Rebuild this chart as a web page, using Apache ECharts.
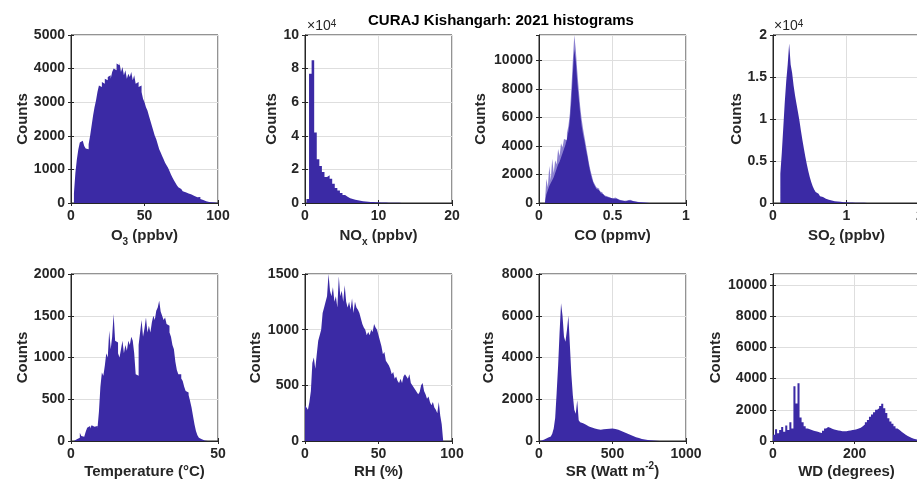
<!DOCTYPE html>
<html>
<head>
<meta charset="utf-8">
<title>CURAJ Kishangarh: 2021 histograms</title>
<script src="https://cdn.jsdelivr.net/npm/echarts@6.0.0/dist/echarts.min.js"></script>
<style>
  html, body { margin: 0; padding: 0; background: #fff; }
  #chart { width: 917px; height: 486px; }
</style>
</head>
<body>
<div id="chart"></div>
<script>
// histogram counts, one array per panel (bin start + bin width)
const o3Start = 0, o3Width = 1;
const o3Counts = [0, 0, 300, 900, 1300, 1600, 1800, 1850, 1800, 1700,
  1620, 1600, 1750, 2000, 2300, 2600, 2850, 3050, 3300, 3500,
  3450, 3600, 3550, 3700, 3650, 3750, 3800, 3700, 3900, 4000,
  3950, 4150, 4100, 4180, 3900, 4050, 3800, 3950, 3700, 3850,
  3750, 3900, 3650, 3800, 3550, 3600, 3450, 3500, 3300, 3100,
  3000, 2850, 2750, 2600, 2450, 2300, 2150, 2000, 1900, 1750,
  1600, 1500, 1400, 1300, 1200, 1120, 1050, 950, 850, 760,
  680, 600, 530, 470, 420, 380, 350, 320, 300, 280,
  270, 250, 230, 210, 190, 170, 200, 180, 120, 90,
  70, 50, 40, 30, 25, 20, 20, 15, 15, 10];

const noxStart = 0.2, noxWidth = 0.35;
const noxCounts = [2400, 77000, 85000, 42000, 26000, 22000, 18500, 15500, 16500, 14500,
  11500, 9000, 7500, 6000, 4700, 3700, 2900, 2400, 1900, 1700,
  1300, 1100, 850, 750, 650, 550, 500, 450, 350, 300,
  250, 200, 170, 140, 110, 90, 70, 55, 40, 30];

const coStart = 0.04, coWidth = 0.01;
const coCounts = [0, 600, 900, 1200, 1400, 1600, 1800, 2100, 2400, 2700,
  2900, 3200, 3500, 3800, 4100, 4500, 5000, 5800, 7200, 9000,
  10800, 10000, 8500, 7400, 6300, 5400, 4800, 4300, 3700, 3200,
  2600, 2100, 1700, 1400, 1200, 1000, 900, 800, 700, 600,
  500, 450, 400, 380, 350, 300, 300, 350, 300, 250,
  200, 180, 150, 130, 120, 150, 180, 200, 150, 120,
  100, 80, 70, 60, 50, 40, 30, 20, 20, 15,
  10, 0];
const coEdgeCounts = [0, 1700, 1100, 2600, 1600, 3100, 2100, 3000, 2700, 3800,
  3300, 4200, 3900, 4500, 4400, 4900, 5400, 6300, 8000, 10000,
  11800, 10800, 9300, 8000, 6800, 5900, 5200, 4600, 4000, 3400,
  2800, 2300, 1900, 1500, 1300, 1100, 1000, 850, 750, 650,
  550, 500, 430, 400, 370, 320, 330, 380, 320, 270,
  220, 200, 170, 150, 140, 170, 200, 220, 170, 140,
  120, 100, 80, 70, 60, 50, 40, 30, 25, 20,
  15, 0];

const so2Start = 0.1, so2Width = 0.02;
const so2Counts = [3500, 6000, 9000, 12000, 14500, 16500, 19000, 16500, 15500, 14000,
  12800, 11800, 10800, 9800, 8600, 7500, 6500, 5500, 4600, 3800,
  3100, 2500, 2000, 1600, 1300, 1100, 950, 800, 700, 600,
  520, 450, 400, 350, 300, 260, 220, 200, 180, 160,
  140, 120, 100, 90, 80, 70, 60, 55, 50, 45,
  40, 35, 30, 30, 25, 25, 20, 20, 15, 15];

const tempStart = 0, tempWidth = 0.5;
const tempCounts = [0, 0, 10, 20, 20, 40, 100, 60, 50, 70,
  110, 160, 180, 150, 190, 170, 160, 180, 150, 350,
  650, 820, 780, 900, 1050, 1000, 1320, 1100, 1250, 1520,
  1200, 1180, 1050, 1000, 1100, 1200, 1050, 1150, 1080, 1200,
  1150, 1250, 1200, 1050, 800, 780, 1150, 1300, 1450, 1250,
  1350, 1480, 1300, 1380, 1300, 1420, 1500, 1450, 1560, 1600,
  1680, 1550, 1500, 1450, 1480, 1400, 1380, 1300, 1250, 1150,
  1100, 950, 850, 800, 800, 750, 720, 650, 600, 580,
  550, 480, 400, 300, 200, 120, 70, 40, 20, 10,
  5, 0, 0, 0, 0, 0, 0, 0, 0, 0];

const rhStart = 0, rhWidth = 1;
const rhCounts = [320, 300, 280, 350, 450, 700, 750, 650, 780, 900,
  950, 1000, 1150, 1200, 1250, 1300, 1500, 1350, 1300, 1380,
  1250, 1300, 1200, 1480, 1300, 1350, 1250, 1400, 1250, 1200,
  1250, 1180, 1280, 1150, 1250, 1200, 1180, 1150, 1100, 1050,
  1020, 1000, 950, 980, 950, 1000, 980, 1050, 1020, 1000,
  950, 900, 850, 780, 800, 720, 700, 680, 650, 600,
  620, 560, 580, 540, 520, 560, 520, 580, 600, 580,
  560, 600, 520, 500, 480, 460, 440, 420, 440, 500,
  520, 450, 420, 380, 400, 350, 320, 350, 300, 280,
  250, 350, 230, 150, 0, 0, 0, 0, 0, 0];

const srStart = 0, srWidth = 10;
const srCounts = [0, 20, 60, 80, 100, 150, 180, 220, 280, 350,
  600, 1100, 2300, 3600, 5200, 6600, 6000, 5000, 4750, 5300,
  6000, 4600, 3200, 2200, 1500, 1300, 1950, 1000, 900, 850,
  800, 780, 720, 700, 680, 650, 620, 600, 580, 560,
  550, 540, 550, 560, 570, 580, 600, 590, 610, 600,
  600, 580, 560, 540, 510, 480, 450, 420, 390, 360,
  330, 300, 270, 240, 210, 180, 160, 140, 120, 100,
  80, 70, 60, 50, 40, 30, 25, 20, 15, 10,
  8, 5, 0];

const wdStart = 0, wdWidth = 5;
const wdCounts = [400, 750, 500, 700, 900, 600, 1000, 700, 1200, 800,
  3500, 2400, 3700, 1500, 1200, 950, 800, 750, 700, 650,
  620, 600, 550, 520, 650, 800, 900, 850, 780, 740,
  700, 680, 650, 630, 620, 630, 650, 680, 700, 720,
  760, 800, 850, 950, 1050, 1200, 1350, 1550, 1700, 1850,
  2000, 2100, 2250, 2380, 2100, 1800, 1450, 1250, 1100, 950,
  800, 700, 600, 500, 400, 320, 250, 200, 150, 110,
  80, 60];

const fillColor = '#3b2aa5';
const edgeColor = '#8c82d0';
const axisColor = '#262626';
const gridColor = '#dedede';
const fontFamily = "'Liberation Sans', Arial, sans-serif";

function histPoints(start, width, counts) {
  const pts = counts.map((c, i) => [start + i * width, c]);
  pts.push([start + counts.length * width, 0]);
  return pts;
}

const plain = (v) => String(v);
const tex = (v) => String(v / 10000);

const panels = [
  { left: 71, top: 35, h: 168, xMax: 100, xInt: 50, yMax: 5000, yInt: 1000, xName: 'O{sub|3} (ppbv)', gapY: 41, gapX: 22, layers: [[o3Start, o3Width, o3Counts, fillColor]] },
  { left: 305, top: 35, h: 168, xMax: 20, xInt: 10, yMax: 100000, yInt: 20000, yFmt: tex, xName: 'NO{sub|x} (ppbv)', gapY: 26, gapX: 22, layers: [[noxStart, noxWidth, noxCounts, fillColor]] },
  { left: 539, top: 35, h: 168, xMax: 1, xInt: 0.5, yMax: 11800, yInt: 2000, xName: 'CO (ppmv)', gapY: 51, gapX: 22, layers: [[coStart, coWidth, coEdgeCounts, edgeColor], [coStart, coWidth, coCounts, fillColor]] },
  { left: 773, top: 35, h: 168, xMax: 2, xInt: 1, yMax: 20000, yInt: 5000, yFmt: tex, xName: 'SO{sub|2} (ppbv)', gapY: 29, gapX: 22, layers: [[so2Start, so2Width, so2Counts, fillColor]] },
  { left: 71, top: 274, h: 167, xMax: 50, xInt: 50, yMax: 2000, yInt: 500, xName: 'Temperature (°C)', gapY: 41, gapX: 20, layers: [[tempStart, tempWidth, tempCounts, fillColor]] },
  { left: 305, top: 274, h: 167, xMax: 100, xInt: 50, yMax: 1500, yInt: 500, xName: 'RH (%)', gapY: 42, gapX: 20, layers: [[rhStart, rhWidth, rhCounts, fillColor]] },
  { left: 539, top: 274, h: 167, xMax: 1000, xInt: 500, yMax: 8000, yInt: 2000, xName: 'SR (Watt m{sup|-2})', gapY: 43, gapX: 20, layers: [[srStart, srWidth, srCounts, fillColor]] },
  { left: 773, top: 274, h: 167, xMax: 360, xInt: 200, yMax: 10700, yInt: 2000, xName: 'WD (degrees)', gapY: 50, gapX: 20, layers: [[wdStart, wdWidth, wdCounts, fillColor]] }
];

const labelStyle = { color: axisColor, fontFamily, fontWeight: 'bold', fontSize: 14 };
const nameRich = {
  sub: { fontFamily, fontWeight: 'bold', fontSize: 10, lineHeight: 12, verticalAlign: 'bottom', color: axisColor },
  sup: { fontFamily, fontWeight: 'bold', fontSize: 10, lineHeight: 12, verticalAlign: 'top', color: axisColor }
};

const grid = [], xAxis = [], yAxis = [], series = [];
const n = panels.length;
panels.forEach((p, i) => {
  grid.push({
    left: p.left, top: p.top, width: 147, height: p.h,
    outerBoundsMode: 'none', containLabel: false,
    show: true, borderColor: axisColor, borderWidth: 1, backgroundColor: '#fff'
  });
  xAxis[i] = {
    type: 'value', gridIndex: i, min: 0, max: p.xMax, interval: p.xInt,
    axisLine: { show: true, onZero: false, lineStyle: { color: axisColor, width: 1 } },
    axisTick: { show: true, inside: true, length: 3, lineStyle: { color: axisColor } },
    axisLabel: Object.assign({ margin: 6, hideOverlap: false, showMaxLabel: p.xMax % p.xInt === 0, formatter: plain }, labelStyle),
    splitLine: { show: true, lineStyle: { color: gridColor, width: 1 } },
    name: p.xName, nameLocation: 'middle', nameGap: p.gapX, nameMoveOverlap: false,
    nameTextStyle: { color: axisColor, fontFamily, fontWeight: 'bold', fontSize: 15, lineHeight: 22, rich: nameRich }
  };
  yAxis[i] = {
    type: 'value', gridIndex: i, min: 0, max: p.yMax, interval: p.yInt,
    axisLine: { show: true, lineStyle: { color: axisColor, width: 1 } },
    axisTick: { show: true, inside: true, length: 3, lineStyle: { color: axisColor } },
    axisLabel: Object.assign({ margin: 6, showMaxLabel: p.yMax % p.yInt === 0, formatter: p.yFmt || plain }, labelStyle),
    splitLine: { show: true, lineStyle: { color: gridColor, width: 1 } },
    name: 'Counts', nameLocation: 'middle', nameGap: p.gapY, nameMoveOverlap: false,
    nameTextStyle: { color: axisColor, fontFamily, fontWeight: 'bold', fontSize: 15 }
  };
  // mirrored ticks on top and right, as in a boxed axes
  xAxis[n + i] = {
    type: 'value', gridIndex: i, position: 'top', min: 0, max: p.xMax, interval: p.xInt,
    axisLine: { show: false }, axisLabel: { show: false }, splitLine: { show: false },
    axisTick: { show: true, inside: true, length: 3, lineStyle: { color: axisColor } }
  };
  yAxis[n + i] = {
    type: 'value', gridIndex: i, position: 'right', min: 0, max: p.yMax, interval: p.yInt,
    axisLine: { show: false }, axisLabel: { show: false }, splitLine: { show: false },
    axisTick: { show: true, inside: true, length: 3, lineStyle: { color: axisColor } }
  };
  p.layers.forEach(([start, width, counts, color]) => {
    series.push({
      type: 'line', xAxisIndex: i, yAxisIndex: i, step: 'end', symbol: 'none',
      silent: true, clip: true,
      data: histPoints(start, width, counts),
      lineStyle: { width: 0, color },
      itemStyle: { color },
      areaStyle: { color, opacity: 1 }
    });
  });
});

const exponent = (x) => ({
  type: 'text', left: x, top: 19,
  style: {
    text: '×10{s|4}', fill: axisColor, font: '14px ' + fontFamily,
    rich: { s: { fontFamily, fontSize: 10, verticalAlign: 'top', lineHeight: 10, fill: axisColor } }
  }
});

const chart = echarts.init(document.getElementById('chart'), null, { renderer: 'canvas' });
chart.setOption({
  animation: false,
  backgroundColor: '#fff',
  title: {
    text: 'CURAJ Kishangarh: 2021 histograms',
    left: 363, top: 8,
    textStyle: { color: '#000', fontFamily, fontWeight: 'bold', fontSize: 15 }
  },
  graphic: [exponent(307), exponent(774)],
  grid, xAxis, yAxis, series
});
</script>
</body>
</html>
